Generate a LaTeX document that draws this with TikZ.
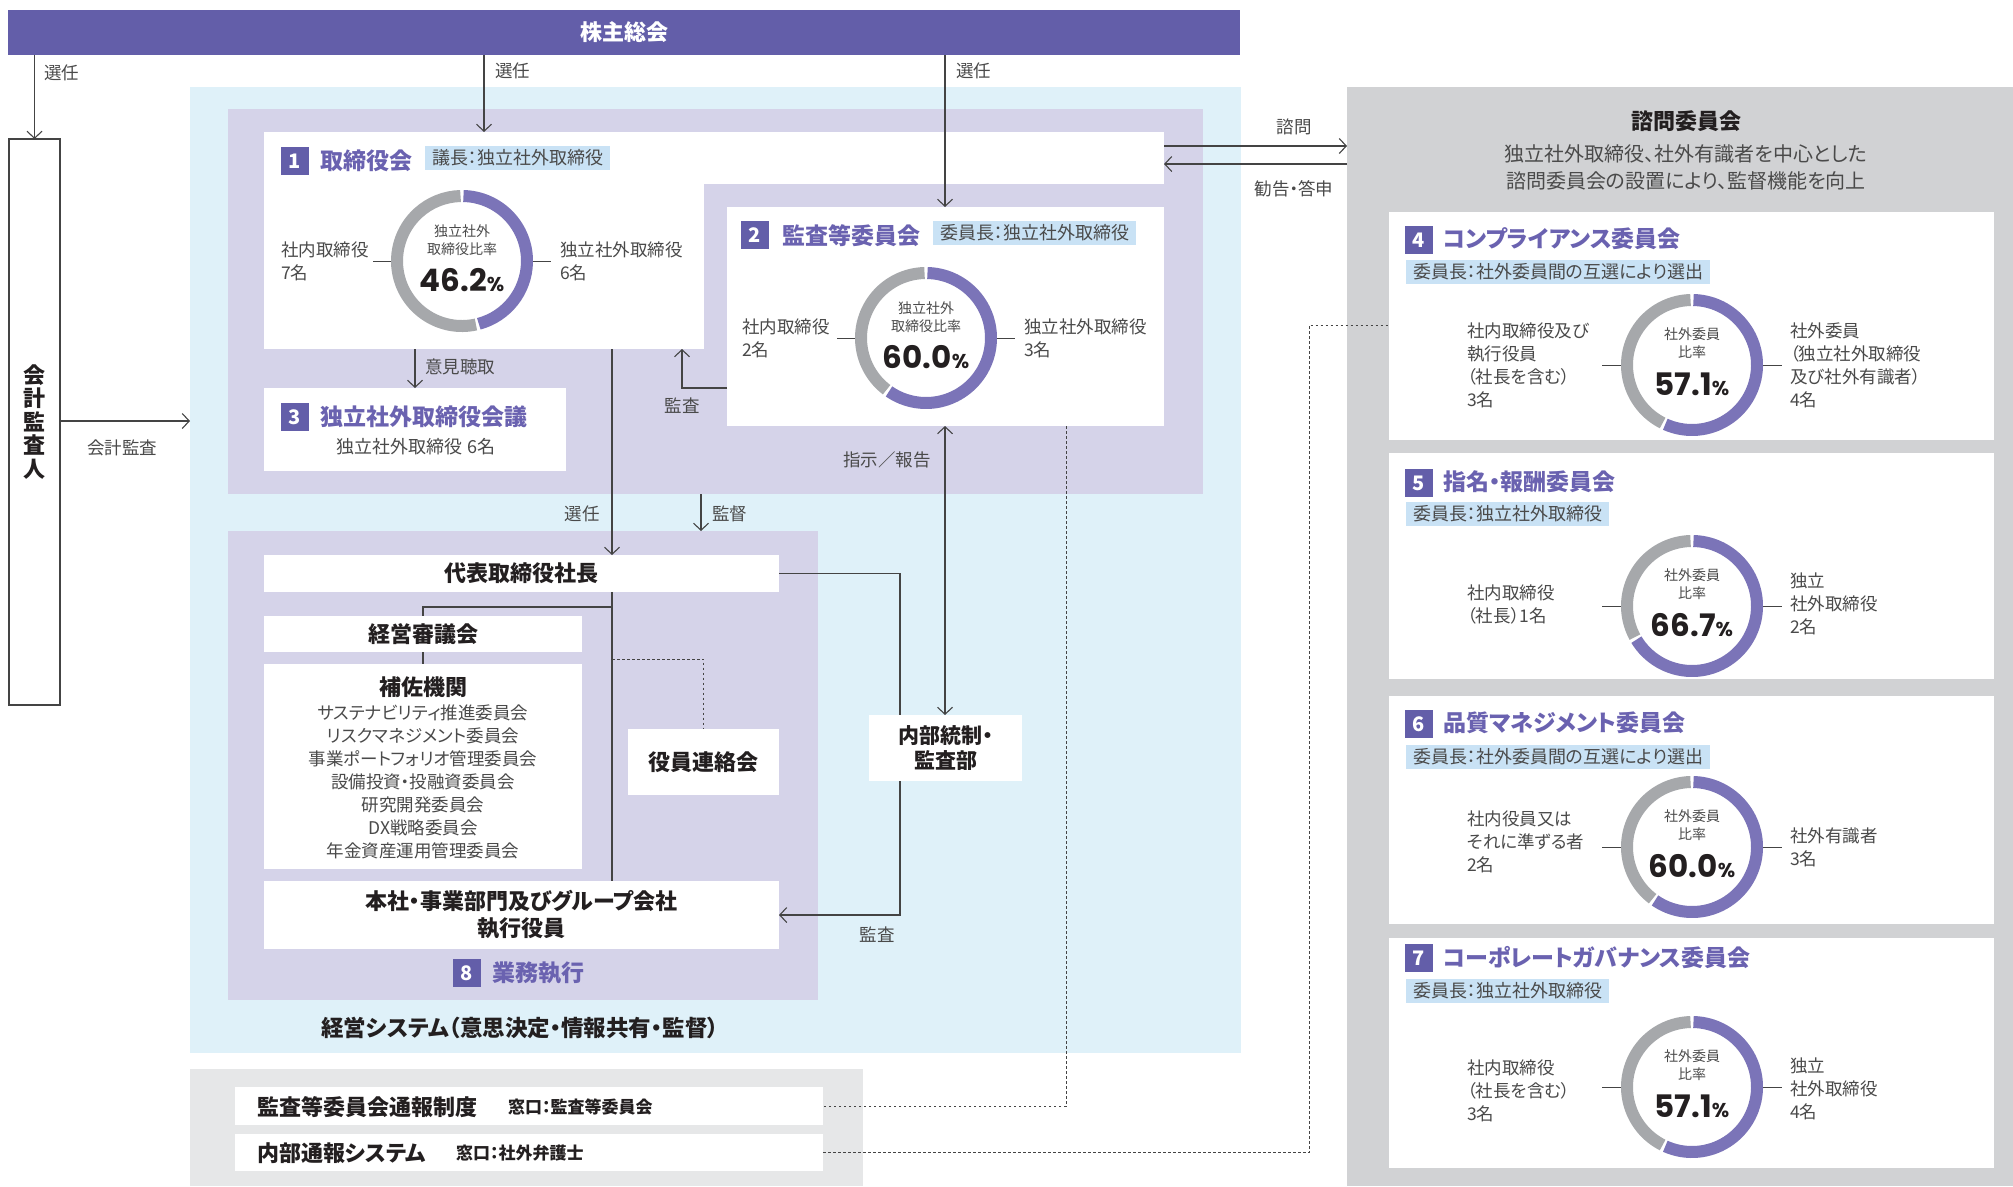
\documentclass[tikz,border=0pt]{standalone}
\usepackage{fontspec}
\setmainfont{Noto Sans CJK JP}[RawFeature=+palt]
\newfontfamily\numfont{Poppins}
\usetikzlibrary{arrows.meta}
\definecolor{barpurple}{HTML}{635EA9}
\definecolor{titlepurple}{HTML}{6A62B0}
\definecolor{ringpurple}{HTML}{7B74B8}
\definecolor{ringgray}{HTML}{A6A8AB}
\definecolor{skyblue}{HTML}{DFF1F9}
\definecolor{lavender}{HTML}{D5D3E9}
\definecolor{panelgray}{HTML}{D1D2D4}
\definecolor{lightgray}{HTML}{E6E7E8}
\definecolor{tagblue}{HTML}{C9E2F5}
\definecolor{txt}{HTML}{231F20}
\definecolor{subtxt}{HTML}{4A4A4A}
\definecolor{linec}{HTML}{444444}
\newcommand\fsz[2]{\fontsize{#1pt}{#2pt}\selectfont}
\newcommand\rbox[6]{\node[#6, anchor=north west, minimum width={(#4-#2)*1pt}, minimum height={(#5-#3)*1pt}] (#1) at (#2,#3) {};}
\newcommand\ring[4]{%
  \node[circle, minimum size=142pt, inner sep=0pt] (#1) at (#2,#3) {};
  \begin{scope}[shift={(#2,#3)}, yscale=-1]
    \draw[ringpurple, line width=12pt] (88.7:65) arc[start angle=88.7, end angle={91.3-3.6*#4}, radius=65];
    \draw[ringgray, line width=12pt] ({88.7-3.6*#4}:65) arc[start angle={88.7-3.6*#4}, end angle=-268.7, radius=65];
  \end{scope}}
\newcommand\pct[1]{{\numfont\bfseries\fsz{31}{31}#1\fsz{20}{20}\%}}
\tikzset{
  rct/.style={inner sep=0pt, outer sep=0pt, draw=none},
  wbox/.style={rct, fill=white},
  conn/.style={draw=linec, line width=1.1pt},
  arr/.style={conn, -{Straight Barb[length=7pt,width=15pt,line width=1.1pt]}},
  darr/.style={conn, {Straight Barb[length=7pt,width=15pt,line width=1.1pt]}-{Straight Barb[length=7pt,width=15pt,line width=1.1pt]}},
  dotline/.style={draw=linec, line width=1pt, dash pattern=on 2.5pt off 2.5pt},
  tick/.style={draw=linec, line width=1pt},
  lbl/.style={text=subtxt, font=\fsz{17.5}{23}, inner sep=0pt, align=left},
  clbl/.style={text=subtxt, font=\fsz{14}{18}, inner sep=0pt, align=center},
  badge/.style={fill=barpurple, text=white, font=\fsz{20}{20}\bfseries, minimum size=28pt, inner sep=0pt},
  ttl/.style={text=titlepurple, font=\fsz{23}{28}\bfseries, anchor=west, inner sep=0pt},
  tag/.style={fill=tagblue, text=subtxt, font=\fsz{18}{20}, anchor=west, inner xsep=7pt, inner ysep=0pt, minimum height=24pt},
  blk/.style={text=txt, font=\fsz{22}{27}\bfseries, inner sep=0pt, align=center},
}
\begin{document}
\begin{tikzpicture}[x=1pt, y=-1pt]
\useasboundingbox (0,0) rectangle (2013,1186);
\fill[white] (0,0) rectangle (2013,1186);
% backgrounds
\rbox{sys}{190}{87}{1241}{1053}{rct, fill=skyblue}
\rbox{up}{228}{109}{1203}{494}{rct, fill=lavender}
\rbox{low}{228}{531}{818}{1000}{rct, fill=lavender}
\rbox{wb}{190}{1069}{863}{1186}{rct, fill=lightgray}
\rbox{adv}{1347}{87}{2013}{1186}{rct, fill=panelgray}
% top bar and auditor
\rbox{gm}{8}{10}{1240}{55}{rct, fill=barpurple}
\node[text=white, font=\fsz{22}{22}\bfseries, inner sep=0pt] (gmt) at (gm) {株主総会};
\rbox{aud}{9}{139}{60}{705}{rct, fill=white, draw=linec, line width=1.1pt}
\node[blk, font=\fsz{22}{23.5}\bfseries] (audt) at (aud) {会\\計\\監\\査\\人};
% white boxes
\rbox{board}{264}{132}{704}{349}{wbox}
\rbox{strip}{704}{132}{1164}{184}{wbox}
\rbox{ac}{727}{207}{1164}{426}{wbox}
\rbox{ind}{264}{388}{566}{471}{wbox}
\rbox{pres}{264}{555}{779}{592}{wbox}
\rbox{mgmt}{264}{616}{582}{652}{wbox}
\rbox{sup}{264}{664}{582}{869}{wbox}
\rbox{exec}{628}{729}{779}{795}{wbox}
\rbox{hq}{264}{881}{779}{949}{wbox}
\rbox{ia}{869}{715}{1022}{781}{wbox}
\rbox{wb1}{235}{1087}{823}{1125}{wbox}
\rbox{wb2}{235}{1134}{823}{1171}{wbox}
\rbox{c4}{1389}{212}{1994}{440}{wbox}
\rbox{c5}{1389}{453}{1994}{679}{wbox}
\rbox{c6}{1389}{696}{1994}{924}{wbox}
\rbox{c7}{1389}{938}{1994}{1168}{wbox}
% column / row coordinates
\coordinate (xb) at (484,0);
\coordinate (xc) at (945,0);
\coordinate (xd) at (415,0);
\coordinate (xe) at (682,0);
\coordinate (xf) at (612,0);
\coordinate (xg) at (701,0);
\coordinate (xj) at (900,0);
\coordinate (xk) at (1066,0);
\coordinate (xl) at (1309,0);
\coordinate (ya) at (0,421);
\coordinate (yb) at (0,388);
\coordinate (yc) at (0,146);
\coordinate (yd) at (0,164);
\coordinate (ye) at (0,607);
\coordinate (yf) at (0,659);
\coordinate (yi) at (0,325);
% connectors
\draw[arr] (gm.south -| aud.north) -- (aud.north);
\draw[arr] (gm.south -| xb) -- (board.north -| xb);
\draw[arr] (gm.south -| xc) -- (ac.north -| xc);
\draw[arr] (aud.east |- ya) -- (sys.west |- ya);
\draw[arr] (board.south -| xd) -- (ind.north -| xd);
\draw[arr] (ac.west |- yb) -| (board.south -| xe);
\draw[arr] (strip.east |- yc) -- (adv.west |- yc);
\draw[arr] (adv.west |- yd) -- (strip.east |- yd);
\draw[arr] (board.south -| xf) -- (pres.north -| xf);
\draw[arr] (up.south -| xg) -- (low.north -| xg);
\draw[conn] (pres.south -| xf) -- (hq.north -| xf);
\draw[conn] (xf |- ye) -| (mgmt.north);
\draw[conn] (mgmt.south) -- (sup.north);
\draw[dotline] (xf |- yf) -| (exec.north);
\draw[conn] (pres.east) -| (ia.north -| xj);
\draw[arr] (ia.south -| xj) |- (hq.east);
\draw[darr] (ac.south -| xc) -- (ia.north -| xc);
\draw[dotline] (ac.south -| xk) |- (wb1.east);
\draw[dotline] (wb2.east) -| (xl |- yi) -- (c4.west |- yi);
% connector labels
\node[lbl, anchor=west] (s0) at (44,73) {選任};
\node[lbl, anchor=west] (s1) at (495,71) {選任};
\node[lbl, anchor=west] (s2) at (956,71) {選任};
\node[lbl] (s3) at (122,448) {会計監査};
\node[lbl, anchor=west] (s4) at (425,367) {意見聴取};
\node[lbl] (s5) at (682,406) {監査};
\node[lbl] (s6) at (1294,127) {諮問};
\node[lbl] (s7) at (1294,189) {勧告・答申};
\node[lbl] (s8) at (582,514) {選任};
\node[lbl, anchor=west] (s9) at (712,514) {監督};
\node[lbl] (s10) at (887,460) {指示／報告};
\node[lbl] (s11) at (877,935) {監査};
% board 1
\node[badge] (b1) at (295,161) {1};
\node[ttl] (t1) at (320,161) {取締役会};
\node[tag] (g1) at (425,158) {議長：独立社外取締役};
\ring{d1}{462}{261}{46.2}
\draw[tick] (d1.west) -- ++(-18,0);
\draw[tick] (d1.east) -- ++(18,0);
\node[lbl, anchor=west] (l1) at (281,261) {社内取締役\\7名};
\node[lbl, anchor=west] (r1) at (560,261) {独立社外取締役\\6名};
\node[clbl] (m1) at (462,240) {独立社外\\取締役比率};
\node[inner sep=0pt, text=txt] (p1) at (462,280) {\pct{46.2}};
% audit committee 2
\node[badge] (b2) at (755,235) {2};
\node[ttl] (t2) at (782,236) {監査等委員会};
\node[tag] (g2) at (933,233) {委員長：独立社外取締役};
\ring{d2}{926}{338}{60}
\draw[tick] (d2.west) -- ++(-18,0);
\draw[tick] (d2.east) -- ++(18,0);
\node[lbl, anchor=west] (l2) at (742,338) {社内取締役\\2名};
\node[lbl, anchor=west] (r2) at (1024,338) {独立社外取締役\\3名};
\node[clbl] (m2) at (926,317) {独立社外\\取締役比率};
\node[inner sep=0pt, text=txt] (p2) at (926,357) {\pct{60.0}};
% independent 3
\node[badge] (b3) at (295,417) {3};
\node[ttl] (t3) at (320,417) {独立社外取締役会議};
\node[lbl, font=\fsz{18}{22}] (u3) at (416,447) {独立社外取締役 6名};
% executive side
\node[blk] (prest) at (pres) {代表取締役社長};
\node[blk] (mgmtt) at (mgmt) {経営審議会};
\node[blk] (supt) at (423,687) {補佐機関};
\node[lbl, align=center, font=\fsz{17.5}{23.1}] (supi) at (423,782) {サステナビリティ推進委員会\\リスクマネジメント委員会\\事業ポートフォリオ管理委員会\\設備投資・投融資委員会\\研究開発委員会\\DX戦略委員会\\年金資産運用管理委員会};
\node[blk] (exect) at (exec) {役員連絡会};
\node[blk] (hqt) at (hq) {本社・事業部門及びグループ会社\\執行役員};
\node[blk, font=\fsz{21}{24.5}\bfseries] (iat) at (ia) {内部統制・\\監査部};
\node[badge] (b8) at (467,973) {8};
\node[ttl] (t8) at (492,973) {業務執行};
\node[blk, font=\fsz{22.5}{26}\bfseries] (syst) at (520,1028) {経営システム（意思決定・情報共有・監督）};
% whistle-blowing
\node[blk, anchor=west] (w1) at (257,1107) {監査等委員会通報制度};
\node[blk, anchor=west, font=\fsz{17}{20}\bfseries] (w1b) at (508,1107) {窓口：監査等委員会};
\node[blk, anchor=west] (w2) at (257,1153) {内部通報システム};
\node[blk, anchor=west, font=\fsz{17}{20}\bfseries] (w2b) at (456,1153) {窓口：社外弁護士};
% advisory panel
\node[blk] (advt) at (1686,121) {諮問委員会};
\node[lbl, align=center, font=\fsz{20}{27}] (advs) at (1686,167) {独立社外取締役、社外有識者を中心とした\\諮問委員会の設置により、監督機能を向上};
% c4
\node[badge] (b4) at (1419,240) {4};
\node[ttl] (t4) at (1443,239) {コンプライアンス委員会};
\node[tag] (g4) at (1406,272) {委員長：社外委員間の互選により選出};
\ring{d4}{1692}{365}{57.1}
\draw[tick] (d4.west) -- ++(-19,0);
\draw[tick] (d4.east) -- ++(19,0);
\node[lbl, anchor=west] (l4) at (1467,365) {社内取締役及び\\執行役員\\（社長を含む）\\3名};
\node[lbl, anchor=west] (r4) at (1790,365) {社外委員\\（独立社外取締役\\及び社外有識者）\\4名};
\node[clbl] (m4) at (1692,343) {社外委員\\比率};
\node[inner sep=0pt, text=txt] (p4) at (1692,384) {\pct{57.1}};
% c5
\node[badge] (b5) at (1419,483) {5};
\node[ttl] (t5) at (1443,482) {指名・報酬委員会};
\node[tag] (g5) at (1406,514) {委員長：独立社外取締役};
\ring{d5}{1692}{606}{66.7}
\draw[tick] (d5.west) -- ++(-19,0);
\draw[tick] (d5.east) -- ++(19,0);
\node[lbl, anchor=west] (l5) at (1467,604) {社内取締役\\（社長）1名};
\node[lbl, anchor=west] (r5) at (1790,604) {独立\\社外取締役\\2名};
\node[clbl] (m5) at (1692,584) {社外委員\\比率};
\node[inner sep=0pt, text=txt] (p5) at (1692,625) {\pct{66.7}};
% c6
\node[badge] (b6) at (1419,724) {6};
\node[ttl] (t6) at (1443,723) {品質マネジメント委員会};
\node[tag] (g6) at (1406,757) {委員長：社外委員間の互選により選出};
\ring{d6}{1692}{847}{60}
\draw[tick] (d6.west) -- ++(-19,0);
\draw[tick] (d6.east) -- ++(19,0);
\node[lbl, anchor=west] (l6) at (1467,842) {社内役員又は\\それに準ずる者\\2名};
\node[lbl, anchor=west] (r6) at (1790,847) {社外有識者\\3名};
\node[clbl] (m6) at (1692,825) {社外委員\\比率};
\node[inner sep=0pt, text=txt] (p6) at (1692,866) {\pct{60.0}};
% c7
\node[badge] (b7) at (1419,958) {7};
\node[ttl] (t7) at (1443,958) {コーポレートガバナンス委員会};
\node[tag] (g7) at (1406,991) {委員長：独立社外取締役};
\ring{d7}{1692}{1087}{57.1}
\draw[tick] (d7.west) -- ++(-19,0);
\draw[tick] (d7.east) -- ++(19,0);
\node[lbl, anchor=west] (l7) at (1467,1091) {社内取締役\\（社長を含む）\\3名};
\node[lbl, anchor=west] (r7) at (1790,1089) {独立\\社外取締役\\4名};
\node[clbl] (m7) at (1692,1065) {社外委員\\比率};
\node[inner sep=0pt, text=txt] (p7) at (1692,1106) {\pct{57.1}};
\end{tikzpicture}
\end{document}
